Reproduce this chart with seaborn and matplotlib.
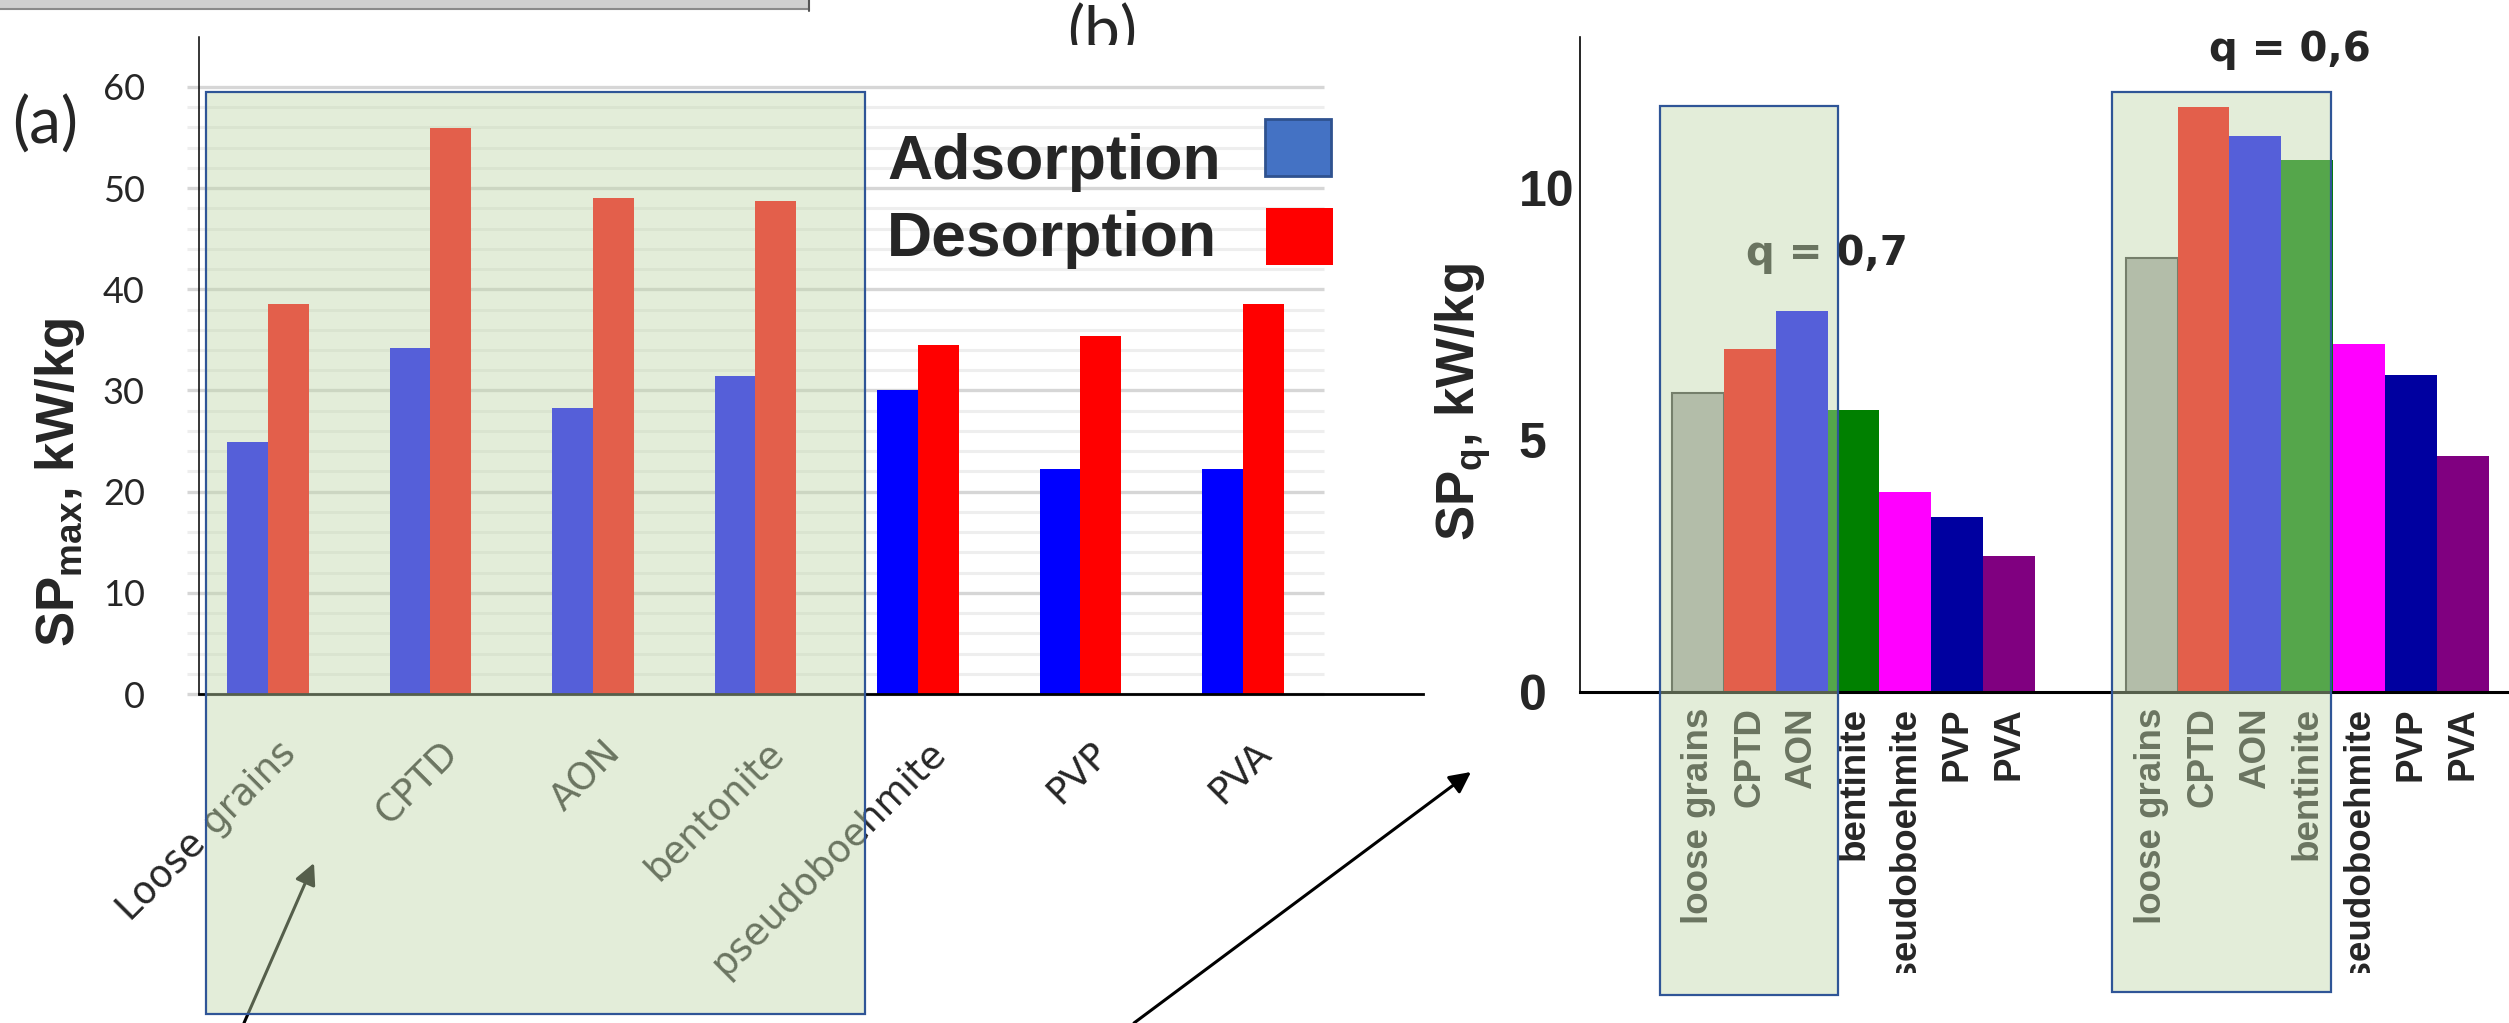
import pandas as pd
import seaborn as sns
import matplotlib.pyplot as plt
from matplotlib.patches import Rectangle, FancyArrowPatch
from matplotlib.transforms import ScaledTranslation

# panel (a): SP_max, kW/kg
materials_a = ["Loose grains", "CPTD", "AON", "bentonite", "pseudoboehmite", "PVP", "PVA"]
adsorption = [24.9, 34.2, 28.3, 31.4, 30.0, 22.2, 22.2]
desorption = [38.5, 55.9, 49.0, 48.7, 34.5, 35.4, 38.5]

# panel (b): SP_q, kW/kg
materials_b = ["loose grains", "CPTD", "AON", "bentinite", "pseudoboehmite", "PVP", "PVA"]
q_levels = ["0,7", "0,6"]
sp_q07 = [5.93, 6.81, 7.57, 5.60, 3.96, 3.48, 2.70]
sp_q06 = [8.62, 11.61, 11.04, 10.56, 6.91, 6.29, 4.69]
colors_b = ["#A9A9A9", "#FF0000", "#0000FF", "#008000", "#FF00FF", "#0000A0", "#800080"]

sns.set_style("white")
plt.rcParams["font.family"] = ["DejaVu Sans"]
plt.rcParams["mathtext.fontset"] = "custom"
plt.rcParams["mathtext.bf"] = "Liberation Sans:bold"
plt.rcParams["mathtext.rm"] = "Liberation Sans:bold"

W, H = 2509, 1023
def fx(x):
    return x / W
def fy(y):
    return 1 - y / H

fig = plt.figure(figsize=(W / 100, H / 100), dpi=100)

# ---------- panel (a) ----------
df_a = pd.DataFrame({
    "material": materials_a * 2,
    "process": ["Adsorption"] * 7 + ["Desorption"] * 7,
    "value": adsorption + desorption,
})
ax1 = fig.add_axes([fx(199), fy(694), (1423 - 199) / W, (694 - 37) / H])
ax1.set_facecolor("none")
sns.barplot(data=df_a, x="material", y="value", hue="process", order=materials_a,
            palette=["#0000FF", "#FF0000"], width=0.5, saturation=1, errorbar=None,
            legend=False, linewidth=0, ax=ax1)
ax1.set_ylim(0, 64.94)
ax1.set_xlim(-0.4246, 7.108)
ax1.hlines([v for v in range(2, 60, 2) if v % 10], -0.5, 6.5, color="#eeeeee", lw=2.2,
           zorder=0.5, clip_on=False)
ax1.hlines(range(0, 61, 10), -0.5, 6.5, color="#d6d6d6", lw=2.4, zorder=0.6, clip_on=False)
ax1.set_yticks(range(0, 61, 10))
ax1.tick_params(axis="y", length=0, pad=39, labelsize=26)
for lbl in ax1.get_yticklabels():
    lbl.set_fontfamily("Lato")
ax1.set_xticks(range(len(materials_a)))
ax1.set_xticklabels(materials_a, rotation=45, ha="right", va="top", rotation_mode="anchor",
                    fontsize=27)
ax1.tick_params(axis="x", length=0, pad=29.5)
for lbl in ax1.get_xticklabels():
    lbl.set_transform(lbl.get_transform() + ScaledTranslation(0.1, 0, fig.dpi_scale_trans))
ax1.set_xlabel("")
ax1.set_ylabel("")
for s in ["top", "right"]:
    ax1.spines[s].set_visible(False)
ax1.spines["left"].set_color("black")
ax1.spines["left"].set_linewidth(1.1)
ax1.spines["bottom"].set_color("black")
ax1.spines["bottom"].set_linewidth(2.0)

fig.text(fx(60), fy(482), "SP$_{\\mathbf{max}}$, kW/kg", rotation=90, ha="center", va="center",
         fontsize=38, fontweight="bold", family="Liberation Sans")
fig.text(fx(45), fy(125), "(a)", ha="center", va="center", fontsize=46, family="Lato")

# legend of panel (a)
fig.text(fx(887), fy(179), "Adsorption", fontsize=45, fontweight="bold",
         family="Liberation Sans", va="baseline", ha="left")
fig.text(fx(887), fy(256), "Desorption", fontsize=45, fontweight="bold",
         family="Liberation Sans", va="baseline", ha="left")
fig.add_artist(Rectangle((fx(1265), fy(176)), 66 / W, 57 / H, transform=fig.transFigure,
                         facecolor="#4472C4", edgecolor="#2F528F", lw=2))
fig.add_artist(Rectangle((fx(1266), fy(265)), 67 / W, 57 / H, transform=fig.transFigure,
                         facecolor="#FF0000", edgecolor="none"))

# ---------- panel (b) ----------
df_b = pd.DataFrame({
    "q": [q_levels[0]] * 7 + [q_levels[1]] * 7,
    "material": materials_b * 2,
    "value": sp_q07 + sp_q06,
})
ax2 = fig.add_axes([fx(1580), fy(692), (W - 1580) / W, (692 - 37) / H])
ax2.set_facecolor("none")
sns.barplot(data=df_b, x="q", y="value", hue="material", order=q_levels,
            hue_order=materials_b, palette=colors_b, width=0.8, saturation=1,
            errorbar=None, legend=False, linewidth=0, ax=ax2)
for bar in ax2.containers[0]:
    bar.set_edgecolor("#3a3a3a")
    bar.set_linewidth(1.5)
ax2.set_ylim(0, 13)
ax2.set_xlim(-0.603, 1.445)
ax2.set_yticks([0, 5, 10])
ax2.tick_params(axis="y", length=0, pad=44, labelsize=36)
for lbl in ax2.get_yticklabels():
    lbl.set_fontweight("bold")
    lbl.set_fontfamily("Liberation Sans")
    lbl.set_horizontalalignment("left")

centers, names = [], []
for name, cont in zip(materials_b, ax2.containers):
    for bar in cont:
        centers.append(bar.get_x() + bar.get_width() / 2)
        names.append(name)
ax2.xaxis.remove_overlapping_locs = False
ax2.set_xticks(range(len(q_levels)))
ax2.set_xticklabels([""] * len(q_levels))
ax2.tick_params(axis="x", which="major", length=9.4, width=1.5, color="black")
ax2.set_xticks(centers, minor=True)
ax2.set_xticklabels(names, minor=True, rotation=90, ha="center", va="top")
ax2.tick_params(axis="x", which="minor", length=0, pad=11)
for lbl in ax2.get_xticklabels(minor=True):
    lbl.set_fontfamily("Liberation Sans")
    lbl.set_fontweight("bold")
    lbl.set_fontsize(26.5)
ax2.set_xlabel("")
ax2.set_ylabel("")
for s in ["top", "right"]:
    ax2.spines[s].set_visible(False)
ax2.spines["left"].set_color("black")
ax2.spines["left"].set_linewidth(1.2)
ax2.spines["bottom"].set_color("black")
ax2.spines["bottom"].set_linewidth(2.2)

fig.text(fx(1464), fy(402), "SP$_{\\mathbf{q}}$, kW/kg", rotation=90, ha="center", va="center",
         fontsize=38, fontweight="bold", family="Liberation Sans")
fig.text(fx(1827), fy(265), "q = 0,7", ha="center", va="baseline", fontsize=29,
         fontweight="bold")
fig.text(fx(2290), fy(61), "q = 0,6", ha="center", va="baseline", fontsize=29,
         fontweight="bold")

# cropped bottom of panel (b) labels
fig.add_artist(Rectangle((fx(1590), 0), (W - 1590) / W, 50 / H, transform=fig.transFigure,
                         facecolor="white", edgecolor="none", zorder=5))

# "(b)" cut at the bottom, grey frame at top-left
fig.text(fx(1102), fy(4), "(b)", ha="center", va="top", fontsize=46, family="Lato")
fig.add_artist(Rectangle((fx(1040), fy(80)), 130 / W, 35 / H, transform=fig.transFigure,
                         facecolor="white", edgecolor="none", zorder=5))
fig.add_artist(Rectangle((0, fy(9)), 809 / W, 9 / H, transform=fig.transFigure,
                         facecolor="#cfcfcf", edgecolor="none", zorder=5))
fig.add_artist(plt.Line2D([0, fx(809)], [fy(9), fy(9)], transform=fig.transFigure,
                          color="#8a8a8a", lw=1.5, zorder=6))
fig.add_artist(plt.Line2D([fx(809), fx(809)], [fy(0), fy(11)], transform=fig.transFigure,
                          color="#555555", lw=1.5, zorder=6))

# arrows
for (x0, y0, x1, y1) in [(244, 1023, 314, 863), (1134, 1023, 1471, 772)]:
    fig.add_artist(FancyArrowPatch((fx(x0), fy(y0)), (fx(x1), fy(y1)),
                                   transform=fig.transFigure, arrowstyle="-|>",
                                   mutation_scale=32, lw=2.2, color="black",
                                   shrinkA=0, shrinkB=0, zorder=6))

# translucent green highlight boxes
for (x0, y0, x1, y1) in [(206, 92, 865, 1014), (1660, 106, 1838, 995), (2112, 92, 2331, 992)]:
    fig.add_artist(Rectangle((fx(x0), fy(y1)), (x1 - x0) / W, (y1 - y0) / H,
                             transform=fig.transFigure, facecolor="#C1D8AB", alpha=0.445,
                             edgecolor="none", zorder=10))
    fig.add_artist(Rectangle((fx(x0), fy(y1)), (x1 - x0) / W, (y1 - y0) / H,
                             transform=fig.transFigure, fill=False, edgecolor="#2F5597",
                             lw=1.6, zorder=11))

fig.savefig("out.png", dpi=100)
